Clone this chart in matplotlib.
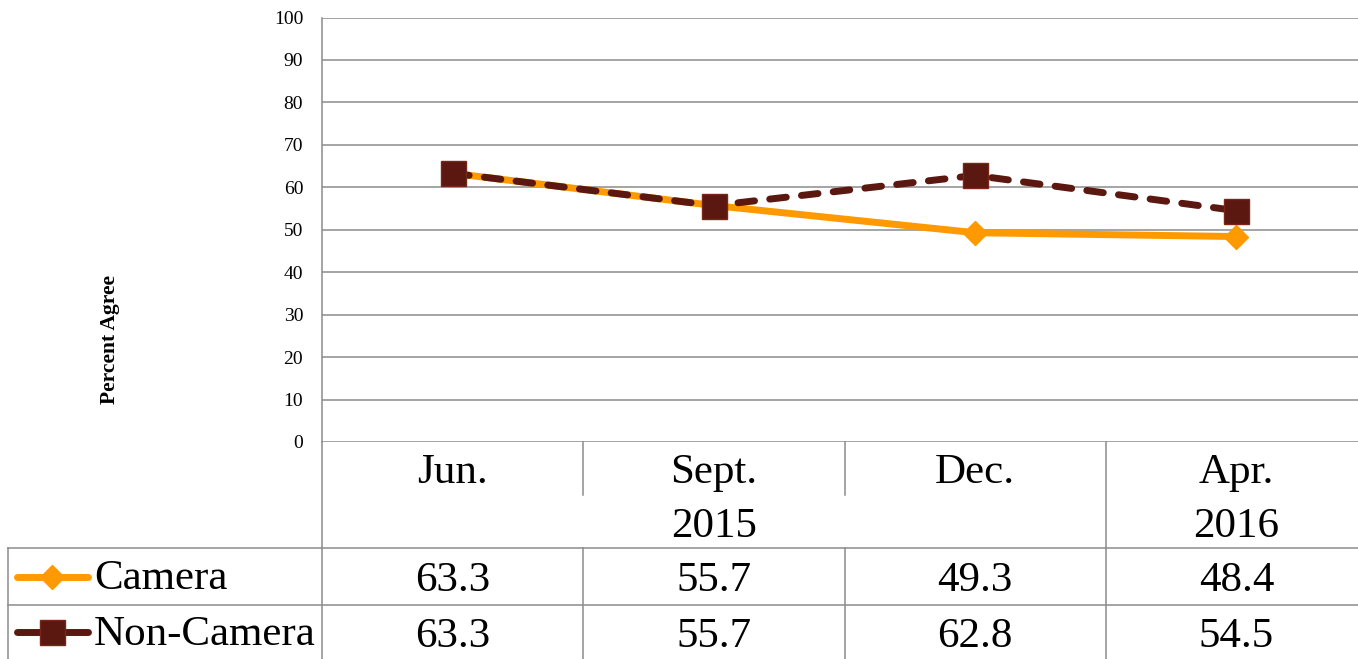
import matplotlib
matplotlib.use("Agg")
import matplotlib.pyplot as plt
from matplotlib.lines import Line2D
from matplotlib.transforms import blended_transform_factory

# ----------------------------------------------------------------------
# Data
# ----------------------------------------------------------------------
months = ['Jun.', 'Sept.', 'Dec.', 'Apr.']
years = ['2015', '2016']
year_span = [(0, 2), (3, 3)]          # first/last month index of each year
camera = [63.3, 55.7, 49.3, 48.4]
non_camera = [63.3, 55.7, 62.8, 54.5]
series_names = ['Camera', 'Non-Camera']

# ----------------------------------------------------------------------
# Style
# ----------------------------------------------------------------------
W, H = 1358, 659
ORANGE = '#FF9900'
BROWN = '#5A1810'
BROWN_EDGE = '#7A2616'
GRID = '#8C8C8C'
TABLE_FS = 31
plt.rcParams['font.family'] = ['Liberation Serif', 'DejaVu Serif']

def fy(px):
    return 1 - px / H

def fx(px):
    return px / W

fig = plt.figure(figsize=(W / 100, H / 100), dpi=100)
# plot area: x 322 -> 1367 px, y 17.5 -> 442 px
ax = fig.add_axes([fx(322), fy(442), fx(1367) - fx(322), fy(17.5) - fy(442)])

cam_style = dict(color=ORANGE, linewidth=5, marker='D', markersize=12.5,
                 markerfacecolor=ORANGE, markeredgecolor=ORANGE)
non_style = dict(color=BROWN, linewidth=5, marker='s', markersize=18,
                 markerfacecolor=BROWN, markeredgecolor=BROWN_EDGE,
                 markeredgewidth=1)

x = list(range(len(months)))
ax.plot(x, camera, zorder=3, solid_capstyle='round', clip_on=False,
        **cam_style)
ax.plot(x, non_camera, dashes=(2.4, 2.2), dash_capstyle='round',
        zorder=4, clip_on=False, **non_style)

ax.set_xlim(-0.5, 3.5)
ax.set_ylim(0, 100)
ax.set_yticks(range(0, 101, 10))
ax.set_xticks([])
ax.tick_params(axis='y', length=0, pad=13.5, labelsize=14)
ax.yaxis.grid(True, color=GRID, linewidth=1.1)
ax.set_axisbelow(True)
for s in ['top', 'right', 'bottom']:
    ax.spines[s].set_visible(False)
ax.spines['left'].set_color(GRID)
ax.spines['left'].set_linewidth(1.1)

fig.text(fx(110), fy(340), 'Percent Agree', rotation=90, ha='center',
         va='center', fontsize=15.5, fontweight='bold')

# ----------------------------------------------------------------------
# Data table under the plot
# ----------------------------------------------------------------------
tr = blended_transform_factory(ax.transData, fig.transFigure)

def vline(xd, y0, y1):
    fig.add_artist(Line2D([xd, xd], [fy(y0), fy(y1)], transform=tr,
                          color=GRID, linewidth=1.1))

def hline_fig(x0, y):
    fig.add_artist(Line2D([fx(x0), 1], [fy(y), fy(y)],
                          transform=fig.transFigure, color=GRID, linewidth=1.1))

# horizontal rules
hline_fig(8, 548)
hline_fig(8, 605)
# left borders
fig.add_artist(Line2D([fx(8), fx(8)], [fy(548), fy(659)],
                      transform=fig.transFigure, color=GRID, linewidth=1.1))
vline(-0.5, 442, 659)
# month separators (short in header) and data-row separators
for i in range(len(months) - 1):
    xd = i + 0.5
    is_year_break = any(a == i + 1 for a, b in year_span)
    if is_year_break:
        vline(xd, 442, 659)
    else:
        vline(xd, 442, 495)
        vline(xd, 548, 659)

# header text (baselines in px)
for i, m in enumerate(months):
    ax.text(i, fy(483), m, transform=tr, ha='center', va='baseline',
            fontsize=TABLE_FS, clip_on=False)
for yr, (a, b) in zip(years, year_span):
    ax.text((a + b) / 2, fy(537), yr, transform=tr, ha='center',
            va='baseline', fontsize=TABLE_FS, clip_on=False)

# value rows
row_base = [591, 647]
row_key = [577, 632]
for vals, rb in zip([camera, non_camera], row_base):
    for i, v in enumerate(vals):
        ax.text(i, fy(rb), f'{v:.1f}', transform=tr, ha='center',
                va='baseline', fontsize=TABLE_FS, clip_on=False)

# legend keys inside the table
for name, rb, rk, kw in zip(series_names, row_base, row_key,
                            [cam_style, non_style]):
    ky = fy(rk)
    line_kw = {k: v for k, v in kw.items() if not k.startswith('marker')}
    mark_kw = {k: v for k, v in kw.items() if k.startswith('marker')}
    fig.add_artist(Line2D([fx(17), fx(88)], [ky, ky], transform=fig.transFigure,
                          solid_capstyle='round', **line_kw))
    fig.add_artist(Line2D([fx(52)], [ky], transform=fig.transFigure,
                          linestyle='none', color=kw['color'], **mark_kw))
    fig.text(fx(94), fy(rb - 2), name, ha='left', va='baseline',
             fontsize=TABLE_FS)

fig.savefig('out.png', dpi=100)
